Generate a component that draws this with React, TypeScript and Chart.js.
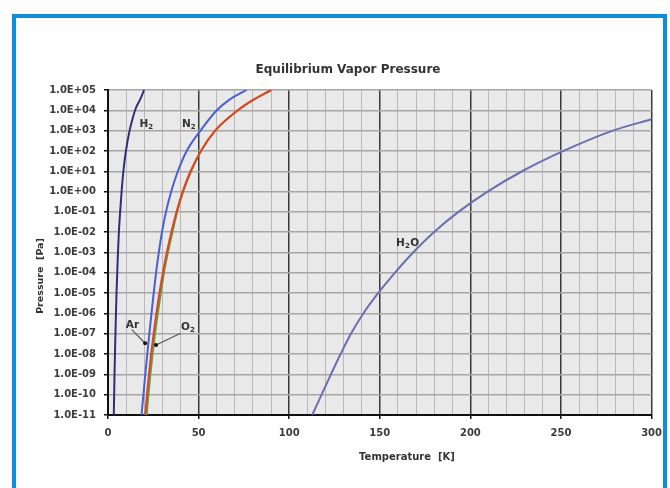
import React, { useEffect, useRef } from 'react';
import { Chart, registerables } from 'chart.js';

Chart.register(...registerables);

// ---- data (temperature K, pressure Pa) ----
const h2T = [3.2, 3.6, 4.1, 4.7, 5.5, 6.0, 6.7, 7.5, 8.5, 9.9, 11.9, 13.6, 15.4, 18.1, 19.9];
const h2P = [1e-11, 1e-9, 1e-7, 1e-5, 1e-3, 1e-2, 1e-1, 1, 10, 100, 1e3, 4e3, 1.3e4, 4e4, 1e5];

const n2T = [18.5, 19.55, 20.58, 21.67, 22.81, 24.01, 25.21, 26.51, 28.04, 29.78, 32.01, 34.9, 38.55, 43.45, 51.07, 60.05, 66.7, 76.4];
const n2P = [1e-11, 1e-10, 1e-9, 1e-8, 1e-7, 1e-6, 1e-5, 1e-4, 1e-3, 1e-2, 1e-1, 1, 10, 100, 1e3, 1e4, 3.16e4, 1e5];

const redT = [20.53, 21.51, 22.59, 23.79, 25.15, 26.68, 28.36, 30.27, 32.45, 34.95, 37.84, 41.21, 45.57, 51.29, 59.18, 71.7, 79.87, 90.04];
const redP = [1e-11, 1e-10, 1e-9, 1e-8, 1e-7, 1e-6, 1e-5, 1e-4, 1e-3, 1e-2, 1e-1, 1, 10, 100, 1e3, 1e4, 3.16e4, 1e5];

const greenT = [21.33, 22.31, 23.39, 24.59, 25.95, 27.48, 29.16, 30.87, 33.05, 35.55, 38.14, 41.51, 45.87, 51.29, 59.18, 71.7, 79.87, 90.04];
const greenP = [1e-11, 1e-10, 1e-9, 1e-8, 1e-7, 1e-6, 1e-5, 1e-4, 1e-3, 1e-2, 1e-1, 1, 10, 100, 1e3, 1e4, 3.16e4, 1e5];

const h2oT = [112.7, 117.87, 123.04, 128.38, 134.09, 140.9, 149.07, 158.32, 168.39, 179.83, 193.43, 209.49, 228.55, 251.41, 278.63, 300];
const h2oP = [1e-11, 1e-10, 1e-9, 1e-8, 1e-7, 1e-6, 1e-5, 1e-4, 1e-3, 1e-2, 1e-1, 1, 10, 100, 1e3, 3.63e3];

// ---- ticks ----
const yTickValues = [1e-11, 1e-10, 1e-9, 1e-8, 1e-7, 1e-6, 1e-5, 1e-4, 1e-3, 1e-2, 1e-1, 1, 10, 100, 1e3, 1e4, 1e5];
const yTickLabels = ['1.0E-11', '1.0E-10', '1.0E-09', '1.0E-08', '1.0E-07', '1.0E-06', '1.0E-05', '1.0E-04',
  '1.0E-03', '1.0E-02', '1.0E-01', '1.0E+00', '1.0E+01', '1.0E+02', '1.0E+03', '1.0E+04', '1.0E+05'];
const xTickLabels = ['0', '50', '100', '150', '200', '250', '300'];

// ---- annotations (data coordinates) ----
const labelParts: [string, boolean][][] = [
  [['H', false], ['2', true]],
  [['N', false], ['2', true]],
  [['H', false], ['2', true], ['O', false]],
  [['Ar', false]],
  [['O', false], ['2', true]],
];
const labelT = [17.4, 40.8, 159, 9.8, 40.3];
const labelP = [2.1e3, 2.1e3, 2.8e-3, 2.7e-7, 2.1e-7];
const arPtrT = [13.1, 20.5];
const arPtrP = [1.6e-7, 3.4e-8];
const o2PtrT = [40.1, 26.5];
const o2PtrP = [1.05e-7, 2.8e-8];

const titleText = 'Equilibrium Vapor Pressure';
const xTitle = 'Temperature  [K]';
const yTitle = 'Pressure  [Pa]';

const pts = (xs: number[], ys: number[]) => xs.map((x, i) => ({ x, y: ys[i] }));
const FONT = '"DejaVu Sans", Verdana, sans-serif';

const bgPlugin = {
  id: 'plotBg',
  beforeDraw(chart: any) {
    const { ctx, chartArea: a } = chart;
    ctx.save();
    ctx.fillStyle = '#ffffff';
    ctx.fillRect(0, 0, chart.width, chart.height);
    ctx.fillStyle = '#e9e9e9';
    ctx.fillRect(a.left, a.top, a.right - a.left, a.bottom - a.top);
    ctx.restore();
  },
};

function drawParts(ctx: CanvasRenderingContext2D, x: number, y: number, parts: [string, boolean][]) {
  let cx = x;
  for (const [t, sub] of parts) {
    ctx.font = sub ? `bold 7px ${FONT}` : `bold 10.5px ${FONT}`;
    ctx.fillText(t, cx, sub ? y + 3 : y);
    cx += ctx.measureText(t).width + (sub ? 0.5 : 0);
  }
}

const textPlugin = {
  id: 'texts',
  afterDraw(chart: any) {
    const { ctx, scales } = chart;
    const xs = scales.x, ys = scales.y;
    ctx.save();
    ctx.fillStyle = '#333';
    ctx.textBaseline = 'middle';
    ctx.textAlign = 'center';
    ctx.font = `bold 12px ${FONT}`;
    ctx.fillText(titleText, 348, 70);
    ctx.font = `bold 10px ${FONT}`;
    ctx.fillText(xTitle, 407, 457);
    ctx.save();
    ctx.translate(41, 276);
    ctx.rotate(-Math.PI / 2);
    ctx.font = `bold 9.5px ${FONT}`;
    ctx.fillText(yTitle, 0, 0);
    ctx.restore();

    // pointers
    ctx.strokeStyle = '#555';
    ctx.lineWidth = 1.2;
    const ptr = (T: number[], P: number[]) => {
      const x0 = xs.getPixelForValue(T[0]), y0 = ys.getPixelForValue(P[0]);
      const x1 = xs.getPixelForValue(T[1]), y1 = ys.getPixelForValue(P[1]);
      ctx.beginPath();
      ctx.moveTo(x0, y0);
      ctx.lineTo(x1, y1);
      ctx.stroke();
      ctx.fillStyle = '#111';
      ctx.beginPath();
      ctx.arc(x1, y1, 2, 0, Math.PI * 2);
      ctx.fill();
    };
    ptr(arPtrT, arPtrP);
    ptr(o2PtrT, o2PtrP);

    ctx.fillStyle = '#333';
    ctx.textAlign = 'left';
    labelParts.forEach((parts, i) => {
      drawParts(ctx, xs.getPixelForValue(labelT[i]), ys.getPixelForValue(labelP[i]), parts);
    });
    ctx.restore();
  },
};

export default function App() {
  const ref = useRef<HTMLCanvasElement>(null);
  useEffect(() => {
    const canvas = ref.current!;
    const ds = (label: string, T: number[], P: number[], color: string, order: number) => ({
      label,
      data: pts(T, P),
      borderColor: color,
      backgroundColor: color,
      borderWidth: 2,
      pointRadius: 0,
      fill: false,
      order,
      cubicInterpolationMode: 'monotone' as const,
    });
    const chart = new Chart(canvas, {
      type: 'line',
      data: {
        datasets: [
          ds('H2O', h2oT, h2oP, '#6b6fb0', 5),
          ds('O2', greenT, greenP, '#5aa04a', 4),
          ds('Ar', redT, redP, '#e4431f', 3),
          ds('N2', n2T, n2P, '#4a5fd2', 2),
          ds('H2', h2T, h2P, '#2e3170', 1),
        ],
      },
      options: {
        animation: false,
        responsive: false,
        maintainAspectRatio: false,
        devicePixelRatio: 1,
        layout: { padding: { top: 90, right: 11, bottom: 23, left: 0 } },
        plugins: { legend: { display: false }, tooltip: { enabled: false }, title: { display: false } },
        scales: {
          x: {
            type: 'linear',
            min: 0,
            max: 300,
            afterFit: (s: any) => { s.height = 50; },
            border: { color: '#111', width: 2 },
            grid: {
              color: (c: any) => (c.tick && c.tick.value % 50 === 0 ? '#3a3a3a' : '#b8b8b8'),
              lineWidth: (c: any) => (c.tick && c.tick.value % 50 === 0 ? 1.5 : 1),
              tickColor: (c: any) => (c.tick && c.tick.value % 50 === 0 ? '#111' : 'rgba(0,0,0,0)'),
              tickLength: 4,
            },
            ticks: {
              stepSize: 10,
              autoSkip: false,
              maxRotation: 0,
              padding: 8,
              color: '#3c3c3c',
              font: { family: FONT, size: 10, weight: 'bold' },
              callback: (v: any) => (Number(v) % 50 === 0 ? xTickLabels[Number(v) / 50] : ''),
            },
          },
          y: {
            type: 'logarithmic',
            min: 1e-11,
            max: 1e5,
            afterFit: (s: any) => { s.width = 108; },
            afterBuildTicks: (s: any) => { s.ticks = yTickValues.map((v) => ({ value: v, major: true })); },
            border: { color: '#111', width: 2 },
            grid: { color: '#a6a6a6', lineWidth: 1.5, tickColor: '#111', tickLength: 4 },
            ticks: {
              autoSkip: false,
              padding: 8,
              color: '#3c3c3c',
              font: { family: FONT, size: 10, weight: 'bold' },
              callback: (v: any) => {
                const idx = yTickValues.findIndex((t) => Math.abs(Math.log10(t) - Math.log10(Number(v))) < 1e-6);
                return idx >= 0 ? yTickLabels[idx] : '';
              },
            },
          },
        },
      } as any,
      plugins: [bgPlugin, textPlugin],
    });
    return () => chart.destroy();
  }, []);
  return (
    <div style={{ position: 'fixed', left: 0, top: 0, width: 670, height: 488, background: '#fff', overflow: 'hidden' }}>
      <canvas ref={ref} width={670} height={488} style={{ display: 'block', width: 670, height: 488 }} />
      <div
        style={{
          position: 'absolute', left: 12, top: 14, width: 655, height: 520,
          border: '4px solid #0c8ed9', borderBottom: 'none', boxSizing: 'border-box', pointerEvents: 'none',
        }}
      />
    </div>
  );
}
